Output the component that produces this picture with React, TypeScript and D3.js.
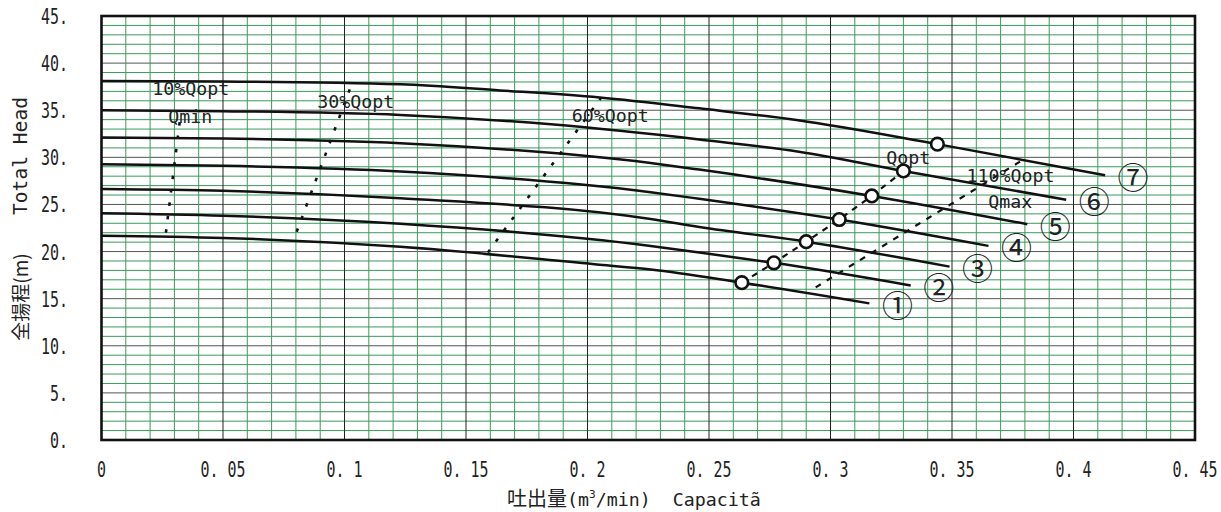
import React from "react";
import * as d3 from "d3";

// ---- data ----
const xTickValues = [0, 0.05, 0.1, 0.15, 0.2, 0.25, 0.3, 0.35, 0.4, 0.45];
const xTickLabels = ["0", "0. 05", "0. 1", "0. 15", "0. 2", "0. 25", "0. 3", "0. 35", "0. 4", "0. 45"];
const yTickValues = [0, 5, 10, 15, 20, 25, 30, 35, 40, 45];
const yTickLabels = ["0.", "5.", "10.", "15.", "20.", "25.", "30.", "35.", "40.", "45."];

const curve1: [number, number][] = [[0, 21.69], [0.05, 21.45], [0.123, 20.5], [0.205, 18.6], [0.226, 18.1], [0.2635, 16.7], [0.316, 14.5]];
const curve2: [number, number][] = [[0, 24.06], [0.05, 23.8], [0.123, 22.95], [0.226, 20.6], [0.246, 19.9], [0.2767, 18.8], [0.333, 16.4]];
const curve3: [number, number][] = [[0, 26.64], [0.05, 26.45], [0.123, 25.65], [0.226, 23.45], [0.246, 22.6], [0.29, 21.05], [0.349, 18.4]];
const curve4: [number, number][] = [[0, 29.26], [0.05, 29.1], [0.123, 28.5], [0.226, 26.3], [0.246, 25.6], [0.3036, 23.4], [0.365, 20.6]];
const curve5: [number, number][] = [[0, 32.1], [0.05, 32.0], [0.123, 31.5], [0.226, 29.4], [0.246, 28.7], [0.317, 25.9], [0.381, 22.9]];
const curve6: [number, number][] = [[0, 35.0], [0.05, 34.9], [0.123, 34.5], [0.185, 33.5], [0.246, 31.9], [0.287, 30.6], [0.33, 28.55], [0.397, 25.5]];
const curve7: [number, number][] = [[0, 38.1], [0.05, 38.05], [0.123, 37.75], [0.164, 37.1], [0.205, 36.35], [0.246, 35.2], [0.286, 33.96], [0.344, 31.4], [0.413, 28.1]];
const curves = [curve1, curve2, curve3, curve4, curve5, curve6, curve7];
const curveLabels = ["①", "②", "③", "④", "⑤", "⑥", "⑦"];

const qoptQ = [0.2635, 0.2767, 0.29, 0.3036, 0.317, 0.33, 0.344];
const qoptH = [16.7, 18.8, 21.05, 23.4, 25.9, 28.55, 31.4];

const line10: [number, number][] = [[0.0265, 22.0], [0.0325, 34.4]];
const line30: [number, number][] = [[0.0803, 22.1], [0.103, 37.8]];
const line60: [number, number][] = [[0.159, 19.9], [0.2055, 36.3]];
const line110: [number, number][] = [[0.2939, 16.2], [0.378, 29.55]];

const annotations = [
  { text: "10%Qopt", q: 0.0209, h: 36.6 },
  { text: "Qmin", q: 0.0275, h: 33.6 },
  { text: "30%Qopt", q: 0.0888, h: 35.2 },
  { text: "60%Qopt", q: 0.1935, h: 33.75 },
  { text: "Qopt", q: 0.3229, h: 29.3 },
  { text: "110%Qopt", q: 0.3560, h: 27.35 },
  { text: "Qmax", q: 0.3649, h: 24.6 },
];

// ---- layout ----
const W = 1221;
const H = 512;
const L = 101.5, R = 1195, T = 16, B = 440;

export default function App() {
  const x = d3.scaleLinear().domain([0, 0.45]).range([L, R]);
  const y = d3.scaleLinear().domain([0, 45]).range([B, T]);
  const line = d3
    .line<[number, number]>()
    .x((d) => x(d[0]))
    .y((d) => y(d[1]))
    .curve(d3.curveMonotoneX);
  const straight = d3
    .line<[number, number]>()
    .x((d) => x(d[0]))
    .y((d) => y(d[1]));

  const vGrid = d3.range(0, 46).map((i) => i / 100);
  const hGrid = d3.range(0, 46);
  const qoptPts: [number, number][] = qoptQ.map((q, i) => [q, qoptH[i]]);

  const mono = "'DejaVu Sans Mono', monospace";
  const cjk = "'Noto Sans CJK JP', sans-serif";

  return (
    <svg
      width={W}
      height={H}
      style={{ position: "absolute", left: 0, top: 0, background: "#fff" }}
    >
      <rect x={0} y={0} width={W} height={H} fill="#fff" />
      {/* grid */}
      {hGrid.map((v) => (
        <line
          key={"h" + v}
          x1={L}
          x2={R}
          y1={y(v)}
          y2={y(v)}
          stroke={v % 5 === 0 ? "#555" : "#3a9a5c"}
          strokeWidth={1}
        />
      ))}
      {vGrid.map((v, i) => (
        <line
          key={"v" + i}
          x1={x(v)}
          x2={x(v)}
          y1={T}
          y2={B}
          stroke={i % 5 === 0 ? "#222" : "#3a9a5c"}
          strokeWidth={1}
        />
      ))}
      {/* frame */}
      <rect x={L} y={T} width={R - L} height={B - T} fill="none" stroke="#111" strokeWidth={2.6} />

      {/* y ticks */}
      {yTickValues.map((v, i) => (
        <text
          key={"yt" + v}
          transform={`translate(68,${y(v) + 8}) scale(0.68,1)`}
          textAnchor="end"
          fontFamily={mono}
          fontSize={22}
          fill="#222"
        >
          {yTickLabels[i]}
        </text>
      ))}
      {/* x ticks */}
      {xTickValues.map((v, i) => (
        <text
          key={"xt" + v}
          transform={`translate(${x(v)},477) scale(0.68,1)`}
          textAnchor="middle"
          fontFamily={mono}
          fontSize={22}
          fill="#222"
          style={{ whiteSpace: "pre" }}
        >
          {xTickLabels[i]}
        </text>
      ))}

      {/* x title */}
      <text x={507} y={506} fill="#222" fontFamily={mono} fontSize={18.3} style={{ whiteSpace: "pre" }}>
        <tspan fontFamily={cjk} fontSize={20}>吐出量</tspan>
        <tspan>(m</tspan>
        <tspan fontSize={11} dy={-8}>3</tspan>
        <tspan dy={8}>{"/min)  Capacitã"}</tspan>
      </text>

      {/* y title */}
      <text
        transform={`translate(27,156) rotate(-90)`}
        textAnchor="middle"
        fontFamily={mono}
        fontSize={19.6}
        fill="#222"
      >
        Total Head
      </text>
      <text
        transform={`translate(28,297) rotate(-90)`}
        textAnchor="middle"
        fontFamily={cjk}
        fontSize={19}
        fill="#222"
      >
        全揚程(m)
      </text>

      {/* guide lines */}
      {[line10, line30, line60].map((l, i) => (
        <path
          key={"dl" + i}
          d={straight(l) || ""}
          fill="none"
          stroke="#111"
          strokeWidth={2.6}
          strokeDasharray="3.5 10"
        />
      ))}
      <path d={straight(line110) || ""} fill="none" stroke="#111" strokeWidth={2.2} strokeDasharray="6 7" />
      <path
        d={straight(qoptPts.slice(0, 6)) || ""}
        fill="none"
        stroke="#111"
        strokeWidth={2.2}
        strokeDasharray="6 6"
      />

      {/* curves */}
      {curves.map((c, i) => (
        <path key={"c" + i} d={line(c) || ""} fill="none" stroke="#111" strokeWidth={2.5} />
      ))}

      {/* Qopt circles */}
      {qoptPts.map((p, i) => (
        <circle key={"o" + i} cx={x(p[0])} cy={y(p[1])} r={6.3} fill="#fff" stroke="#111" strokeWidth={2.6} />
      ))}

      {/* curve labels */}
      {curves.map((c, i) => {
        const e = c[c.length - 1];
        return (
          <text
            key={"cl" + i}
            x={x(e[0]) + 28}
            y={y(e[1])}
            textAnchor="middle"
            dominantBaseline="central"
            fontFamily={cjk}
            fontSize={31}
            fill="#222"
          >
            {curveLabels[i]}
          </text>
        );
      })}

      {/* annotations */}
      {annotations.map((a) => (
        <text
          key={a.text}
          x={x(a.q)}
          y={y(a.h)}
          fontFamily={mono}
          fontSize={18.3}
          fill="#222"
        >
          {a.text}
        </text>
      ))}
    </svg>
  );
}
